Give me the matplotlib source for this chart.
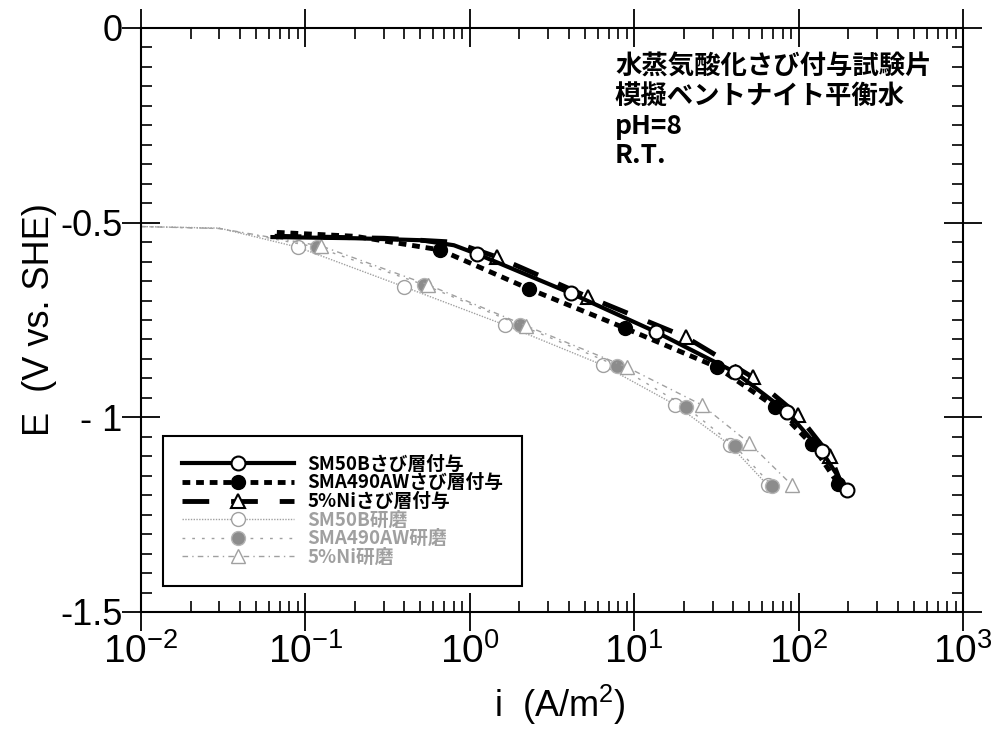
import matplotlib
matplotlib.use("Agg")
import matplotlib.pyplot as plt
from matplotlib.font_manager import FontProperties
from matplotlib.lines import Line2D
from matplotlib.ticker import FixedLocator, LogLocator, MultipleLocator, NullFormatter

JP = ["Noto Sans CJK JP", "DejaVu Sans"]
NUM = ["Liberation Sans", "DejaVu Sans"]

# ---- values ----
# rust-layer specimens (black)
sm50b_rust_i = [0.063, 0.2, 0.5, 0.8, 1.1, 4.1, 13.6, 41, 85, 138, 197]
sm50b_rust_e = [-0.537, -0.540, -0.545, -0.558, -0.580, -0.681, -0.781, -0.884, -0.986, -1.087, -1.187]
sm50b_rust_mk = [4, 5, 6, 7, 8, 9, 10]

sma_rust_i = [0.067, 0.2, 0.66, 2.29, 8.8, 31.9, 72, 120, 174]
sma_rust_e = [-0.525, -0.535, -0.570, -0.670, -0.771, -0.871, -0.973, -1.069, -1.171]
sma_rust_mk = [2, 3, 4, 5, 6, 7, 8]

ni_rust_i = [0.065, 0.3, 0.8, 1.46, 5.26, 20.6, 52.6, 99, 156, 185]
ni_rust_e = [-0.535, -0.540, -0.550, -0.588, -0.691, -0.794, -0.897, -0.994, -1.100, -1.180]
ni_rust_mk = [3, 4, 5, 6, 7, 8]

# polished specimens (grey)
sm50b_pol_i = [0.01, 0.03, 0.09, 0.40, 1.64, 6.45, 17.8, 38, 65]
sm50b_pol_e = [-0.510, -0.514, -0.563, -0.665, -0.763, -0.866, -0.968, -1.070, -1.175]
sm50b_pol_mk = [2, 3, 4, 5, 6, 7, 8]

sma_pol_i = [0.01, 0.03, 0.117, 0.53, 2.02, 7.9, 20.6, 41, 69]
sma_pol_e = [-0.510, -0.515, -0.563, -0.660, -0.763, -0.868, -0.973, -1.074, -1.176]
sma_pol_mk = [2, 3, 4, 5, 6, 7, 8]

ni_pol_i = [0.01, 0.03, 0.125, 0.56, 2.2, 9.0, 25.7, 50, 91]
ni_pol_e = [-0.510, -0.515, -0.560, -0.660, -0.765, -0.871, -0.968, -1.066, -1.174]
ni_pol_mk = [2, 3, 4, 5, 6, 7, 8]

labels = ["SM50Bさび層付与", "SMA490AWさび層付与", "5%Niさび層付与",
          "SM50B研磨", "SMA490AW研磨", "5%Ni研磨"]

x_ticks = [1e-2, 1e-1, 1e0, 1e1, 1e2, 1e3]
x_ticklabels = [r"$\mathregular{10^{-2}}$", r"$\mathregular{10^{-1}}$", r"$\mathregular{10^{0}}$",
                r"$\mathregular{10^{1}}$", r"$\mathregular{10^{2}}$", r"$\mathregular{10^{3}}$"]
y_ticks = [-1.5, -1.0, -0.5, 0.0]
y_ticklabels = ["-1.5", "- 1", "-0.5", "0"]

note_lines = ["水蒸気酸化さび付与試験片", "模擬ベントナイト平衡水", "pH=8", "R.T."]

GREY = "#a0a0a0"

styles = [
    dict(color="black", lw=3.0, ls="-", marker="o", ms=10, mfc="white", mec="black", mew=1.5),
    dict(color="black", lw=3.5, ls=(0, (1.6, 1.2)), marker="o", ms=10, mfc="black", mec="black"),
    dict(color="black", lw=3.5, ls=(0, (5.5, 4.5)), marker="^", ms=10, mfc="white", mec="black", mew=1.5),
    dict(color=GREY, lw=1.0, ls=(0, (1, 1)), marker="o", ms=10, mfc="white", mec=GREY, mew=1.0),
    dict(color=GREY, lw=1.0, ls=(0, (2, 5)), marker="o", ms=10, mfc="#8c8c8c", mec="#b5b5b5", mew=1.0),
    dict(color=GREY, lw=1.0, ls=(0, (4, 3, 1, 3)), marker="^", ms=10, mfc="white", mec=GREY, mew=1.0),
]

fig = plt.figure(figsize=(10.08, 7.31), dpi=100)
ax = fig.add_axes([0.1399, 0.1628, 0.8155, 0.7989])

series = [
    (sm50b_pol_i, sm50b_pol_e, sm50b_pol_mk, 3),
    (sma_pol_i, sma_pol_e, sma_pol_mk, 4),
    (ni_pol_i, ni_pol_e, ni_pol_mk, 5),
    (sma_rust_i, sma_rust_e, sma_rust_mk, 1),
    (ni_rust_i, ni_rust_e, ni_rust_mk, 2),
    (sm50b_rust_i, sm50b_rust_e, sm50b_rust_mk, 0),
]
for xs, ys, mk, k in series:
    ax.plot(xs, ys, markevery=mk, zorder=3 if k < 3 else 2, **styles[k])

ax.set_xscale("log")
ax.set_xlim(1e-2, 1e3)
ax.set_ylim(-1.5, 0)

ax.xaxis.set_major_locator(FixedLocator(x_ticks))
ax.set_xticklabels(x_ticklabels, fontfamily=NUM, fontsize=28)
ax.xaxis.set_minor_locator(LogLocator(base=10, subs=range(2, 10), numticks=20))
ax.xaxis.set_minor_formatter(NullFormatter())
ax.yaxis.set_major_locator(FixedLocator(y_ticks))
ax.set_yticklabels(y_ticklabels, fontfamily=NUM, fontsize=26)
ax.yaxis.set_minor_locator(MultipleLocator(0.05))

ax.tick_params(which="major", direction="inout", length=27, width=1.3,
               top=True, right=True, pad=2)
ax.tick_params(which="minor", direction="in", length=8, width=1.2, top=True, right=True)
ax.tick_params(axis="y", which="major", pad=0)
for sp in ax.spines.values():
    sp.set_linewidth(1.5)

fig.text(40 / 1008, 1 - 320 / 731, "E  (V vs. SHE)", rotation=90, ha="center", va="center",
         fontfamily=NUM, fontsize=26)
fig.text(560 / 1008, 1 - 705 / 731, r"i  (A/m$\mathregular{^2}$)", ha="center", va="center",
         fontfamily=NUM, fontsize=26)

for k, line in enumerate(note_lines):
    fig.text(615 / 1008, 1 - (67 + 29.5 * k) / 731, line, ha="left", va="center",
             fontfamily=JP, fontsize=19, fontweight="bold")

handles = [Line2D([], [], **st) for st in styles]
leg = ax.legend(handles, labels, loc="lower left", bbox_to_anchor=(0.027, 0.045),
                prop=FontProperties(family=JP, size=13.5, weight="bold"),
                frameon=True, fancybox=False, edgecolor="black", framealpha=1,
                handlelength=6, labelspacing=-0.02, borderpad=1.0, handletextpad=0.7,
                numpoints=1, borderaxespad=0)
leg.get_frame().set_linewidth(1.5)
for k, t in enumerate(leg.get_texts()):
    if k >= 3:
        t.set_color(GREY)

fig.savefig("out.png", dpi=100)
